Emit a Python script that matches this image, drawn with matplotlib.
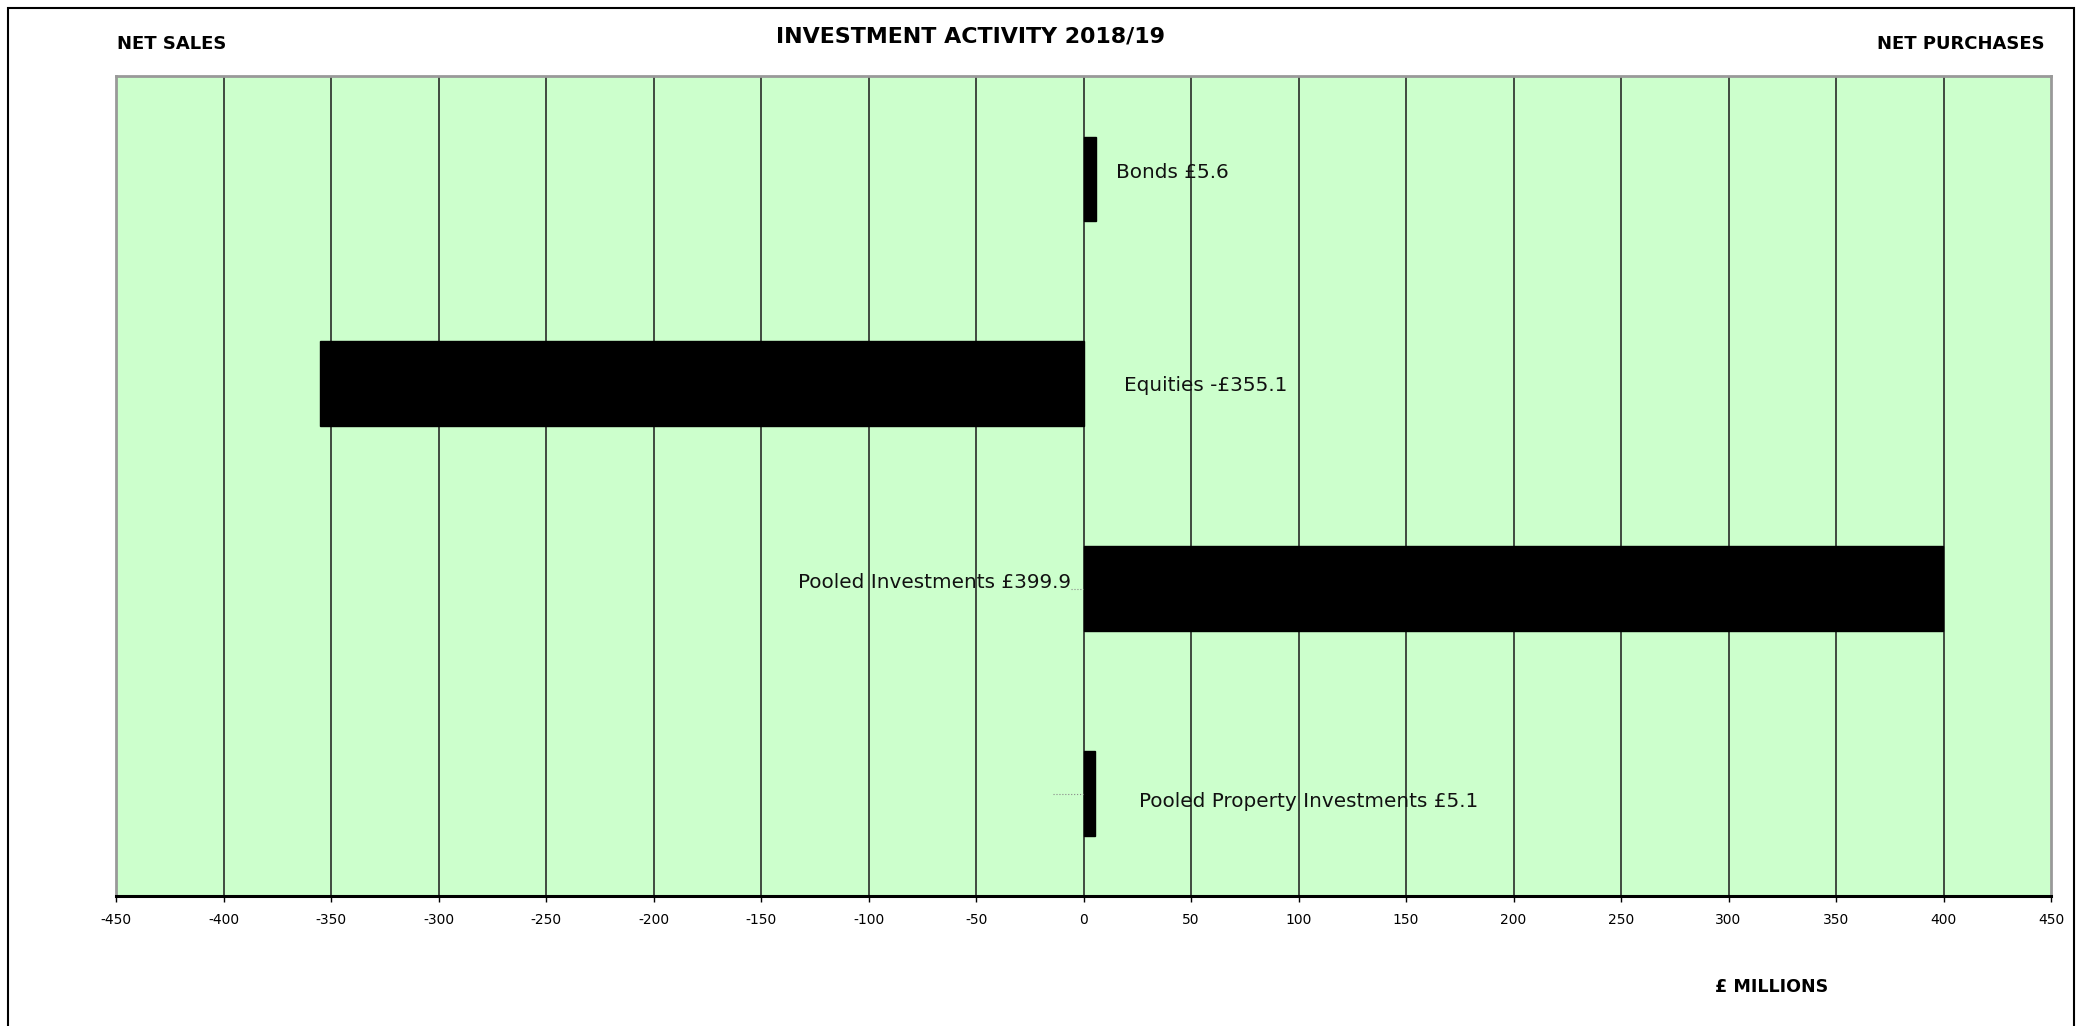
import matplotlib
matplotlib.use("Agg")
import matplotlib.pyplot as plt
from matplotlib.patches import Rectangle

# data (GBP millions)
categories = ["Bonds", "Equities", "Pooled Investments", "Pooled Property Investments"]
values = [5.6, -355.1, 399.9, 5.1]
bar_labels = ["Bonds £5.6", "Equities -£355.1", "Pooled Investments £399.9",
              "Pooled Property Investments £5.1"]
xticks = list(range(-450, 451, 50))

# label placement (data x, y offset, alignment)
label_x = [15, 19, -6, 26]
label_dy = [-0.03, 0.01, -0.03, 0.04]
label_ha = ["left", "left", "right", "left"]

plt.rcParams["font.family"] = ["DejaVu Sans"]

fig = plt.figure(figsize=(20.88, 10.26), dpi=100)
ax = fig.add_axes([0.0556, 0.1267, 0.9267, 0.7992])
ax.set_facecolor("#CCFFCC")

ypos = list(range(len(categories)))
ax.barh(ypos, values, height=0.41, color="black", edgecolor="black", zorder=3)

# vertical gridlines
for t in xticks[1:-1]:
    ax.axvline(t, color="#1a1a1a", lw=1.1, zorder=1)

for i, (txt, lx, dy, ha) in enumerate(zip(bar_labels, label_x, label_dy, label_ha)):
    ax.text(lx, i + dy, txt, ha=ha, va="center", fontsize=14.4, color="#111111", zorder=4)

# small leader lines
ax.plot([-6, 0], [2, 2], color="#888888", lw=0.8, ls=":", zorder=2)
ax.plot([-14, 0], [3, 3], color="#888888", lw=0.8, ls=":", zorder=2)

ax.set_xlim(-450, 450)
ax.set_ylim(3.5, -0.5)
ax.set_xticks(xticks)
ax.set_xticklabels([str(t) for t in xticks], fontsize=10)
ax.set_yticks([])
ax.tick_params(axis="x", direction="out", length=4, width=1, pad=8, color="black")

for side in ["top", "left", "right"]:
    ax.spines[side].set_color("#999999")
    ax.spines[side].set_linewidth(2)
ax.spines["bottom"].set_color("black")
ax.spines["bottom"].set_linewidth(2.2)

# texts around the chart
fig.text(971 / 2088, 1 - 37 / 1026, "INVESTMENT ACTIVITY 2018/19", ha="center", va="center",
         fontsize=15.9, fontweight="bold")
fig.text(117 / 2088, 1 - 44 / 1026, "NET SALES", ha="left", va="center",
         fontsize=13, fontweight="bold")
fig.text(2045 / 2088, 1 - 44 / 1026, "NET PURCHASES", ha="right", va="center",
         fontsize=13, fontweight="bold")
fig.text(1772 / 2088, 1 - 987 / 1026, "£ MILLIONS", ha="center", va="center",
         fontsize=12.6, fontweight="bold")

# outer frame
fig.patches.append(Rectangle((8 / 2088, -0.05), (2074 - 8) / 2088, 1.05 - 8 / 1026,
                             transform=fig.transFigure, fill=False, edgecolor="black", lw=1.5))

fig.savefig("out.png", dpi=100)
